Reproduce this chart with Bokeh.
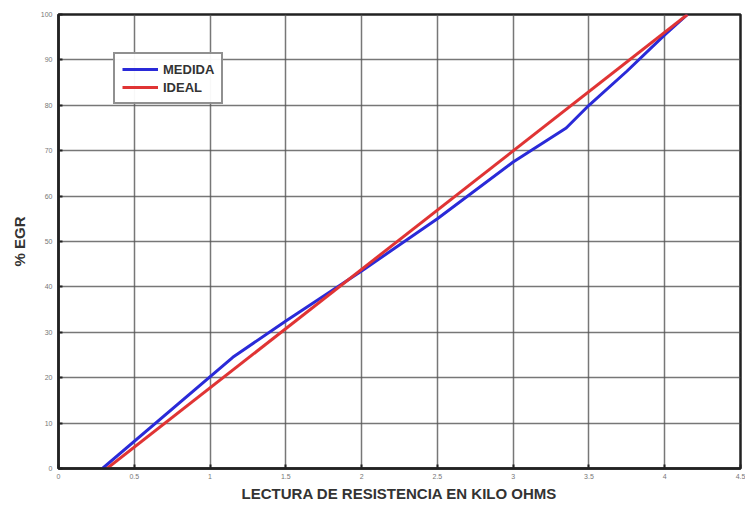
from bokeh.plotting import figure
from bokeh.models import Range1d, FixedTicker, Legend, LegendItem
from bokeh.embed import file_html
from bokeh.resources import INLINE

# Data
medida_x = [0.29, 1.15, 1.5, 2.0, 2.5, 3.0, 3.35, 3.5, 3.75, 4.0, 4.15]
medida_y = [0, 24.5, 32.5, 43.5, 55, 67.5, 75, 80, 87.5, 95.5, 100]
ideal_x = [0.32, 4.15]
ideal_y = [0, 100]
x_ticks = [0, 0.5, 1, 1.5, 2, 2.5, 3, 3.5, 4, 4.5]
x_tick_labels = ["0", "0.5", "1", "1.5", "2", "2.5", "3", "3.5", "4", "4.5"]
y_ticks = [0, 10, 20, 30, 40, 50, 60, 70, 80, 90, 100]

p = figure(width=745, height=504, output_backend="svg", toolbar_location=None,
           x_range=Range1d(0, 4.5), y_range=Range1d(0, 100),
           min_border_left=58, min_border_right=5, min_border_top=14, min_border_bottom=35)

p.outline_line_color = "#222222"
p.outline_line_width = 2.5
p.background_fill_color = "white"
p.border_fill_color = "white"

for ax in (p.xaxis[0], p.yaxis[0]):
    ax.axis_line_color = "#222222"
    ax.axis_line_width = 2.5
    ax.major_tick_in = 4
    ax.major_tick_out = 0
    ax.minor_tick_in = 0
    ax.minor_tick_out = 0
    ax.major_tick_line_color = "#222222"
    ax.major_tick_line_width = 2
    ax.major_label_text_font = "Liberation Sans"
    ax.major_label_text_font_size = "7px"
    ax.major_label_text_color = "#777777"
    ax.axis_label_text_font = "Liberation Sans"
    ax.axis_label_text_font_style = "bold"
    ax.axis_label_text_font_size = "15px"
    ax.axis_label_text_color = "#333333"

p.xaxis.ticker = FixedTicker(ticks=x_ticks)
p.xaxis.major_label_overrides = {t: l for t, l in zip(x_ticks, x_tick_labels)}
p.yaxis.ticker = FixedTicker(ticks=y_ticks)
p.xaxis.major_label_standoff = 5
p.yaxis.major_label_standoff = 6
p.xaxis.axis_label = "LECTURA DE RESISTENCIA EN KILO OHMS"
p.yaxis.axis_label = "% EGR"
p.xaxis.axis_label_standoff = 3
p.yaxis.axis_label_standoff = 10

p.xgrid.ticker = FixedTicker(ticks=x_ticks)
p.ygrid.ticker = FixedTicker(ticks=y_ticks)
for g in (p.xgrid[0], p.ygrid[0]):
    g.grid_line_color = "#555555"
    g.grid_line_width = 1.5
    g.grid_line_alpha = 0.8

r1 = p.line(medida_x, medida_y, line_color="#2a2ad8", line_width=3)
r2 = p.line(ideal_x, ideal_y, line_color="#e03434", line_width=3)

legend = Legend(items=[LegendItem(label="MEDIDA", renderers=[r1]),
                       LegendItem(label="IDEAL", renderers=[r2])],
                location=(55, 364))
legend.border_line_color = "#222222"
legend.border_line_width = 2
legend.label_text_font = "Liberation Sans"
legend.label_text_font_style = "bold"
legend.label_text_font_size = "13px"
legend.label_text_color = "#333333"
legend.glyph_width = 36
legend.glyph_height = 16
legend.label_height = 16
legend.spacing = 2
legend.padding = 7
legend.margin = 0
legend.label_standoff = 5
p.add_layout(legend, "center")

open("out.html", "w").write(file_html(p, INLINE))
